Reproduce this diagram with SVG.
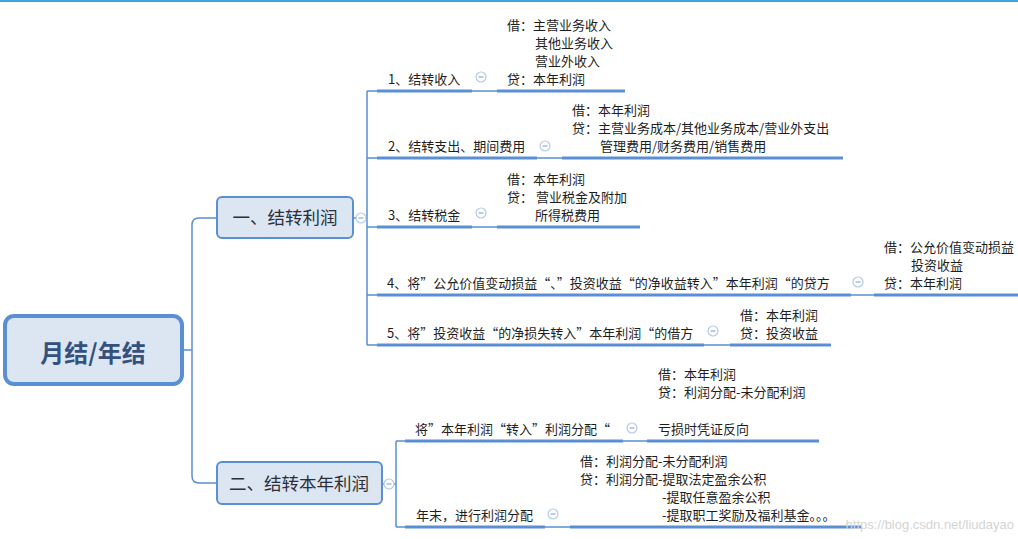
<svg xmlns="http://www.w3.org/2000/svg" width="1018" height="539" viewBox="0 0 1018 539">
<style>
.t{font-family:'Noto Sans CJK SC','Liberation Sans',sans-serif;font-size:13px;fill:#1e1e1e}
.n{font-family:'Noto Sans CJK SC','Liberation Sans',sans-serif;font-size:17.5px;fill:#2b2f3a;text-anchor:middle}
.r{font-family:'Noto Sans CJK SC','Liberation Sans',sans-serif;font-size:24px;font-weight:bold;fill:#34507e;text-anchor:middle}
.thin{fill:none;stroke:#5b8fd4;stroke-width:1.5}
.thick{fill:none;stroke:#5b8fd4;stroke-width:3}
.box{fill:#dce6f2;stroke:#5b8fd4}
</style>
<defs>
<g id="col"><circle r="5" fill="#fff" stroke="#b4c9eb" stroke-width="1.2"/><line x1="-2.5" y1="0" x2="2.5" y2="0" stroke="#8fa9d6" stroke-width="1.2"/></g>
</defs>
<rect x="0" y="0" width="1018" height="2" fill="#3aa6dc"/>
<g id="connectors">
<path class="thin" d="M184,350 H192 M217,218 H199 Q192,218 192,225 V476 Q192,483 199,483 H217"/>
<path class="thin" d="M353,218 H367 M367,91 V345 M367,91 H377 M367,158 H377 M367,227 H377 M367,295 H377 M367,345 H377"/>
<path class="thin" d="M472,91 H497 M537,158 H562 M472,227 H497 M851,295 H874 M704,345 H730"/>
<path class="thin" d="M382,484 H396 M396,441 V527 M396,441 H405 M396,527 H405 M623,441 H647 M545,527 H570"/>
<path class="thick" d="M377,91 H472 M497,91 H625 M377,158 H537 M562,158 H843 M377,227 H472 M497,227 H640 M377,295 H851 M874,295 H1018 M377,345 H704 M730,345 H831 M405,441 H623 M647,441 H819 M405,527 H545 M570,527 H862"/>
<use href="#col" x="361" y="218"/>
<use href="#col" x="389" y="484"/>
<use href="#col" x="481" y="77"/>
<use href="#col" x="545" y="146"/>
<use href="#col" x="481" y="213"/>
<use href="#col" x="858" y="282"/>
<use href="#col" x="713" y="331"/>
<use href="#col" x="632" y="428"/>
<use href="#col" x="553" y="514"/>
</g>
<g id="root">
<rect class="box" x="5" y="316" width="177" height="68" rx="9" stroke-width="4"/>
<text class="r" x="93" y="362">月结/年结</text>
</g>
<g id="n1">
<rect class="box" x="217" y="197" width="136" height="41" rx="5" stroke-width="2"/>
<text class="n" x="285" y="224">一、结转利润</text>
</g>
<g id="n2">
<rect class="box" x="217" y="462" width="165" height="42" rx="5" stroke-width="2"/>
<text class="n" x="299" y="490">二、结转本年利润</text>
</g>
<g id="c1"><text class="t" x="388" y="84">1、结转收入</text></g>
<g id="l1">
<text class="t" x="507" y="30">借：主营业务收入</text>
<text class="t" x="535" y="48">其他业务收入</text>
<text class="t" x="535" y="66">营业外收入</text>
<text class="t" x="507" y="84">贷：本年利润</text>
</g>
<g id="c2"><text class="t" x="388" y="151">2、结转支出、期间费用</text></g>
<g id="l2">
<text class="t" x="572" y="115">借：本年利润</text>
<text class="t" x="572" y="133">贷：主营业务成本/其他业务成本/营业外支出</text>
<text class="t" x="600" y="151">管理费用/财务费用/销售费用</text>
</g>
<g id="c3"><text class="t" x="388" y="220">3、结转税金</text></g>
<g id="l3">
<text class="t" x="507" y="184">借：本年利润</text>
<text class="t" x="507" y="202">贷： 营业税金及附加</text>
<text class="t" x="535" y="220">所得税费用</text>
</g>
<g id="c4"><text class="t" x="387" y="288">4、将”公允价值变动损益“、”投资收益“的净收益转入”本年利润“的贷方</text></g>
<g id="l4">
<text class="t" x="884" y="252">借：公允价值变动损益</text>
<text class="t" x="911" y="270">投资收益</text>
<text class="t" x="884" y="288">贷：本年利润</text>
</g>
<g id="c5"><text class="t" x="387" y="338">5、将”投资收益“的净损失转入”本年利润“的借方</text></g>
<g id="l5">
<text class="t" x="740" y="320">借：本年利润</text>
<text class="t" x="740" y="338">贷：投资收益</text>
</g>
<g id="c6"><text class="t" x="415" y="434">将”本年利润“转入”利润分配“</text></g>
<g id="l6">
<text class="t" x="658" y="379">借：本年利润</text>
<text class="t" x="658" y="397">贷：利润分配-未分配利润</text>
<text class="t" x="658" y="434">亏损时凭证反向</text>
</g>
<g id="c7"><text class="t" x="416" y="520">年末，进行利润分配</text></g>
<g id="l7">
<text class="t" x="580" y="466">借：利润分配-未分配利润</text>
<text class="t" x="580" y="484">贷：利润分配-提取法定盈余公积</text>
<text class="t" x="662" y="502">-提取任意盈余公积</text>
<text class="t" x="662" y="520">-提取职工奖励及福利基金。。。</text>
</g>
<text x="1014" y="529" text-anchor="end" font-family="'Liberation Sans',sans-serif" font-size="13" fill="#d4d4d4">https://blog.csdn.net/liudayao</text>
</svg>
